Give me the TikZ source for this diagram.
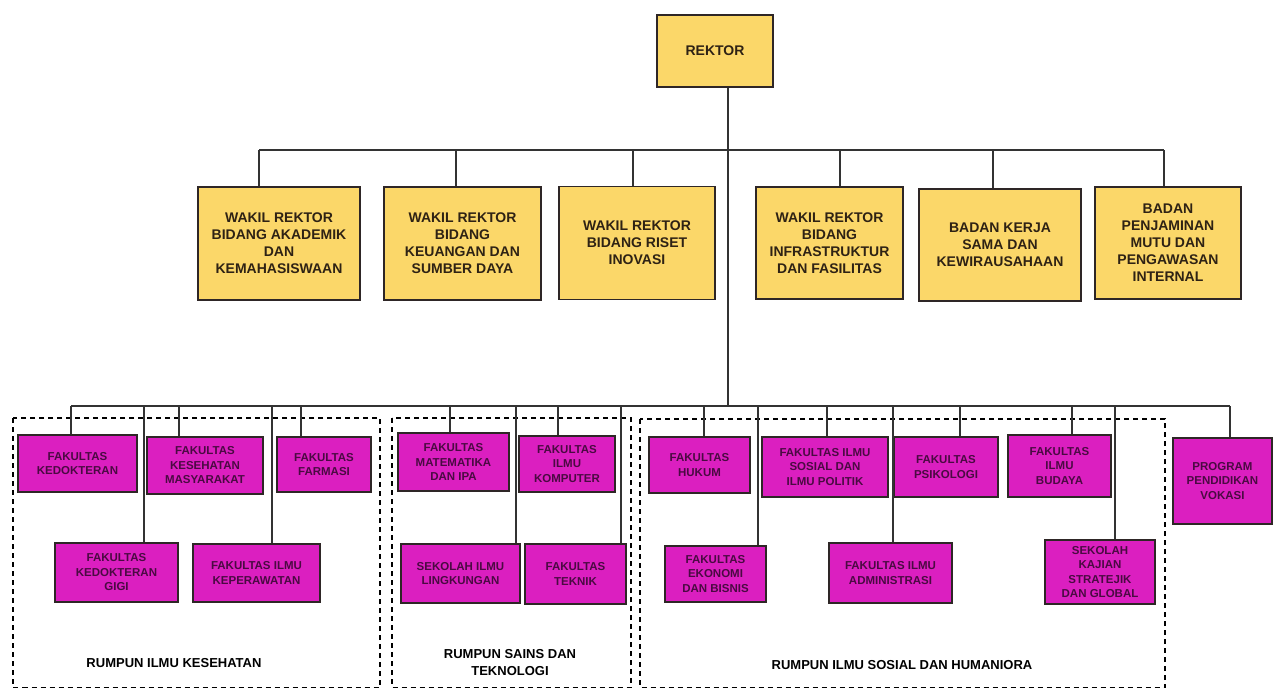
\documentclass[tikz,border=0pt]{standalone}
\usepackage{fontspec}
\setmainfont{Liberation Sans}
\definecolor{rektorfill}{HTML}{FBD769}
\definecolor{rektortext}{HTML}{2E2214}
\definecolor{fakfill}{HTML}{DB1FC0}
\definecolor{faktext}{HTML}{4A0A42}
\definecolor{boxline}{HTML}{2E2626}
\definecolor{linkline}{HTML}{333333}
\begin{document}
\begin{tikzpicture}[x=1pt,y=-1pt]
        \useasboundingbox (0,0) rectangle (1276,689);
        \begin{scope}[every node/.style={draw=boxline,line width=1.6pt,fill=rektorfill,text=rektortext,align=center,inner sep=2pt,font=\bfseries\fontsize{14}{17}\selectfont}]
            \node (rektor) [minimum width=116, minimum height=72] at (715,51) {REKTOR};
            \node (wra) [minimum width=162, minimum height=113] at (279,243.5) {WAKIL REKTOR\\BIDANG AKADEMIK\\DAN\\KEMAHASISWAAN};
            \node (wrb) [minimum width=157, minimum height=113] at (462.5,243.5) {WAKIL REKTOR\\BIDANG\\KEUANGAN DAN\\SUMBER DAYA};
            \node (wrc) [minimum width=156, minimum height=113] at (637,243) {WAKIL REKTOR\\BIDANG RISET\\INOVASI};
            \node (wrd) [minimum width=147, minimum height=112] at (829.5,243) {WAKIL REKTOR\\BIDANG\\INFRASTRUKTUR\\DAN FASILITAS};
            \node (bks) [minimum width=162, minimum height=112] at (1000,245) {BADAN KERJA\\SAMA DAN\\KEWIRAUSAHAAN};
            \node (bpm) [minimum width=146, minimum height=112] at (1168,243) {BADAN\\PENJAMINAN\\MUTU DAN\\PENGAWASAN\\INTERNAL};
        \end{scope}
        \begin{scope}[every node/.style={draw=boxline,line width=1.6pt,fill=fakfill,text=faktext,align=center,inner sep=2pt,font=\bfseries\fontsize{11.5}{14.5}\selectfont}]
            % rumpun ilmu kesehatan
            \node (fk) [minimum width=119, minimum height=57] at (77.5,463.5) {FAKULTAS\\KEDOKTERAN};
            \node (fkm) [minimum width=116, minimum height=57] at (205,465.5) {FAKULTAS\\KESEHATAN\\MASYARAKAT};
            \node (ff) [minimum width=94, minimum height=55] at (324,464.5) {FAKULTAS\\FARMASI};
            \node (fkg) [minimum width=123, minimum height=59] at (116.5,572.5) {FAKULTAS\\KEDOKTERAN\\GIGI};
            \node (fik) [minimum width=127, minimum height=58] at (256.5,573) {FAKULTAS ILMU\\KEPERAWATAN};
            % rumpun sains dan teknologi
            \node (fmipa) [minimum width=111, minimum height=58] at (453.5,462) {FAKULTAS\\MATEMATIKA\\DAN IPA};
            \node (filkom) [minimum width=96, minimum height=56] at (567,464) {FAKULTAS\\ILMU\\KOMPUTER};
            \node (sil) [minimum width=119, minimum height=59] at (460.5,573.5) {SEKOLAH ILMU\\LINGKUNGAN};
            \node (ft) [minimum width=101, minimum height=60] at (575.5,574) {FAKULTAS\\TEKNIK};
            % rumpun sosial dan humaniora
            \node (fh) [minimum width=101, minimum height=56] at (699.5,465) {FAKULTAS\\HUKUM};
            \node (fisip) [minimum width=126, minimum height=60] at (825,467) {FAKULTAS ILMU\\SOSIAL DAN\\ILMU POLITIK};
            \node (fpsi) [minimum width=104, minimum height=60] at (946,467) {FAKULTAS\\PSIKOLOGI};
            \node (fib) [minimum width=103, minimum height=62] at (1059.5,466) {FAKULTAS\\ILMU\\BUDAYA};
            \node (feb) [minimum width=101, minimum height=56] at (715.5,574) {FAKULTAS\\EKONOMI\\DAN BISNIS};
            \node (fia) [minimum width=123, minimum height=60] at (890.5,573) {FAKULTAS ILMU\\ADMINISTRASI};
            \node (sksg) [minimum width=110, minimum height=64] at (1100,572) {SEKOLAH\\KAJIAN\\STRATEJIK\\DAN GLOBAL};
            \node (vokasi) [minimum width=99, minimum height=86] at (1222.5,481) {PROGRAM\\PENDIDIKAN\\VOKASI};
        \end{scope}
        \begin{scope}[every node/.style={text=black,align=center,font=\bfseries\fontsize{13}{17}\selectfont}]
            \node (kes) at (174,663) {RUMPUN ILMU KESEHATAN};
            \node (sains) at (510,663) {RUMPUN SAINS DAN\\TEKNOLOGI};
            \node (soshum) at (902,665) {RUMPUN ILMU SOSIAL DAN HUMANIORA};
        \end{scope}
        \begin{scope}[line width=1.3pt, dash pattern=on 5pt off 4pt]
            \draw (13,418) rectangle (380,687.5);
            \draw (392,418) rectangle (631,687.5);
            \draw (640,419) rectangle (1165,687.5);
        \end{scope}
        \coordinate (bus) at (728,150);
        \coordinate (hub) at (728,406);
        \begin{scope}[draw=linkline, line width=1.3pt]
            \draw (rektor.south -| hub) -- (hub);
            \draw ([xshift=-20]wra.north |- bus) -- ([xshift=-4]bpm.north |- bus);
            \foreach \n/\dx in {wra/-20, wrb/-6.5, wrc/-4, wrd/10.5, bks/-7, bpm/-4}
                \draw ([xshift=\dx]\n.north) -- ([xshift=\dx]\n.north |- bus);
            \draw ([xshift=-6.5]fk.north |- hub) -- ([xshift=7.5]vokasi.north |- hub);
            \foreach \n/\dx in {fk/-6.5, fkm/-26, ff/-23, fkg/27.5, fik/15.5, fmipa/-3.5, filkom/-9, sil/55.5, ft/45.5, fh/4.5, fisip/2, fpsi/14, fib/12.5, feb/42.5, fia/2.5, sksg/15, vokasi/7.5}
                \draw ([xshift=\dx]\n.north) -- ([xshift=\dx]\n.north |- hub);
        \end{scope}
    \end{tikzpicture}
\end{document}
